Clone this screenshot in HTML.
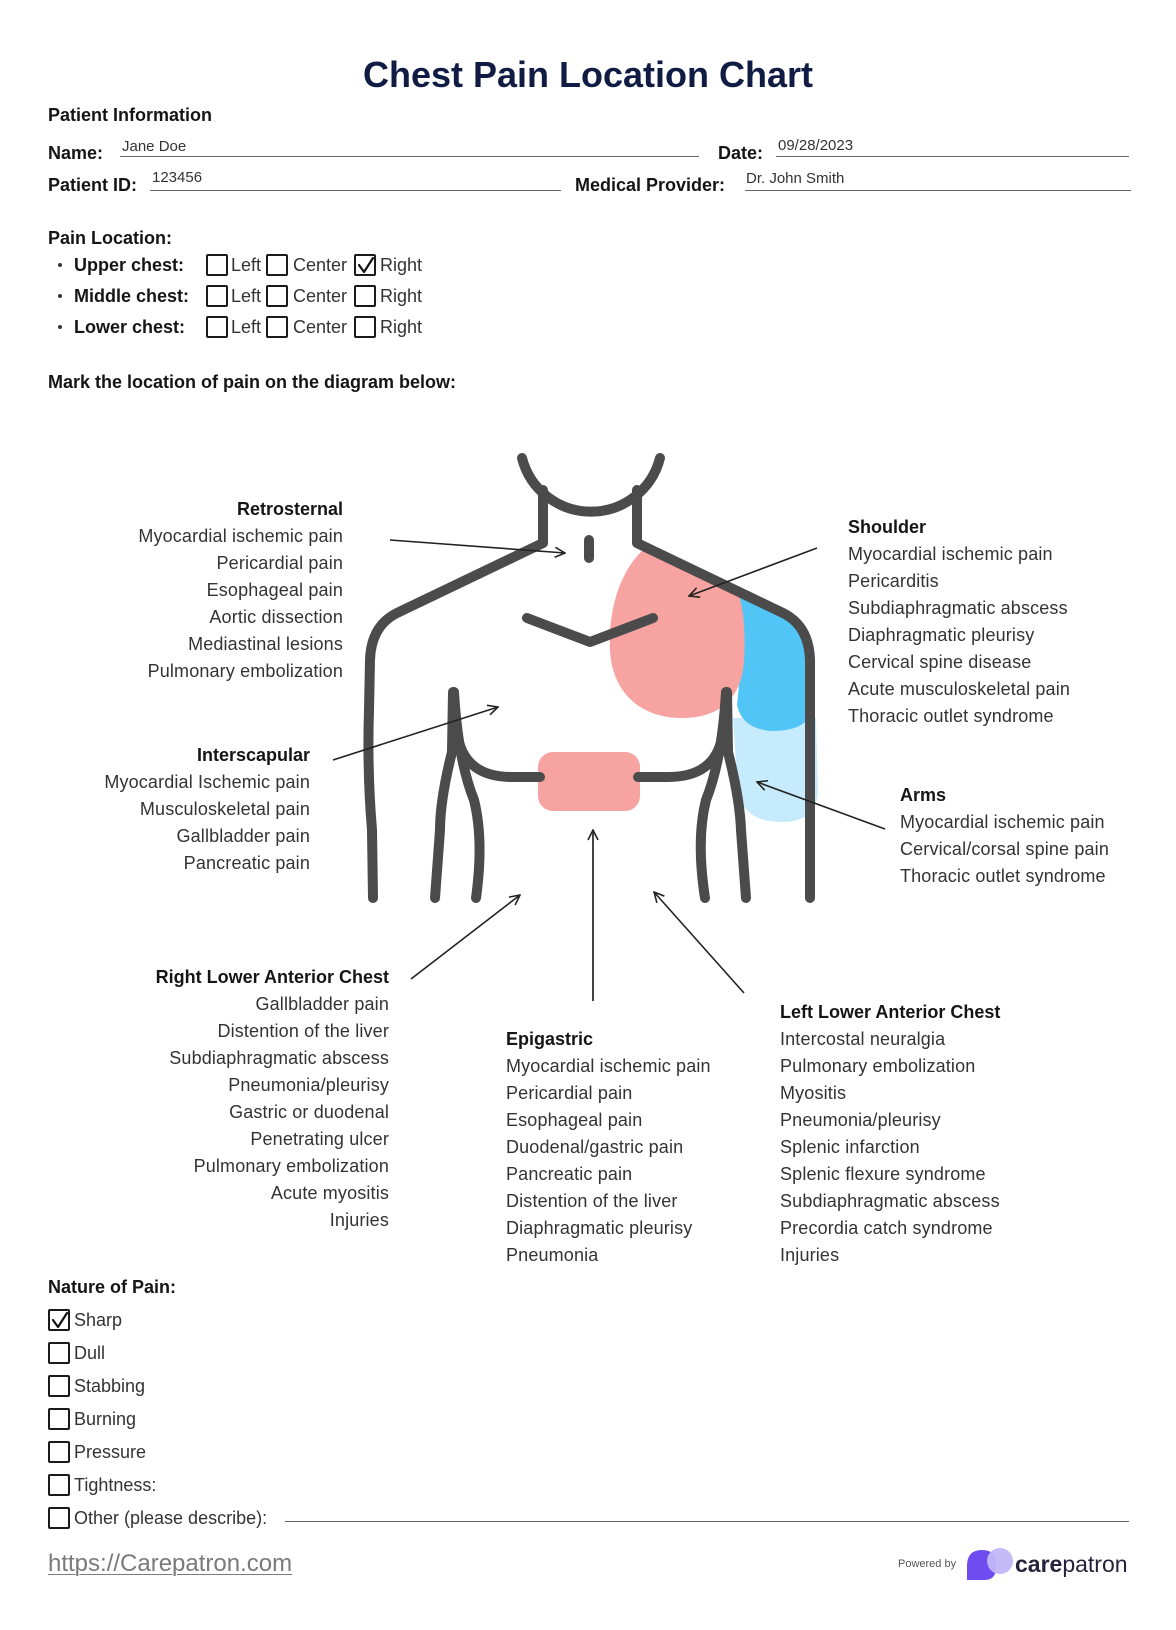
<!DOCTYPE html>
<html><head><meta charset="utf-8"><style>
html,body{margin:0;padding:0;background:#fff}
body{width:1176px;height:1630px;position:relative;overflow:hidden;font-family:"Liberation Sans",Arial,sans-serif}
.t{position:absolute;white-space:nowrap;font-size:18px;line-height:18px;color:#333}
.b{font-weight:bold;color:#151515}
.v{position:absolute;white-space:nowrap;font-size:15px;line-height:15px;color:#333}
.ln{position:absolute;height:0;border-top:1.6px solid #666}
.blk{position:absolute;white-space:nowrap;font-size:18px;line-height:27px;color:#333;letter-spacing:0.15px}
.blk .h{font-weight:bold;color:#151515;letter-spacing:0}
.r{text-align:right}
.cb{position:absolute;width:18px;height:18px;border:2px solid #1a1a1a;border-radius:2px;box-sizing:content-box}
.dot{position:absolute;width:4px;height:4px;border-radius:50%;background:#333}
svg{position:absolute;left:0;top:0}
</style></head><body>
<svg width="1176" height="1630" viewBox="0 0 1176 1630">
<defs>
<marker id="ah" viewBox="0 0 12 12" refX="11" refY="6" markerWidth="12" markerHeight="12" markerUnits="userSpaceOnUse" orient="auto">
<path d="M1,1 L11,6 L1,11" fill="none" stroke="#222" stroke-width="1.6"/>
</marker>
</defs>
<!-- colored areas -->
<path d="M733 718 L816 718 L818 792 Q816 822 782 822 Q744 822 738 792 Z" fill="#C6EBFC"/>
<path d="M732 588 L790 615 Q812 628 812 662 L812 712 Q805 731 772 731 Q742 729 737 705 Q744 650 732 588 Z" fill="#52C5F7"/>
<path d="M645 548 C620 570 608 610 610 650 C612 692 640 718 682 718 C718 718 742 700 744 660 C746 630 743 606 738 592 Z" fill="#F6A3A2"/>
<rect x="538" y="752" width="102" height="59" rx="15" fill="#F6A3A2"/>
<!-- outline -->
<g fill="none" stroke="#4b4b4b" stroke-width="10" stroke-linecap="round" stroke-linejoin="round">
<path d="M522 458 A71.2 71.2 0 0 0 660 458"/>
<path d="M543 490 L543 543 L397 613 Q371 626 370 660 L369 710 Q367 770 372 830 L373 898"/>
<path d="M637 490 L637 543 L783 613 Q809 626 810 660 L810 898"/>
<path d="M589 540 L589 558"/>
<path d="M527 618 L590 642 L653 618"/>
<path d="M453 692 L452 752 Q440 800 440 830 Q437 870 435 898"/>
<path d="M454 692 Q458 760 474 800 Q484 840 476 898"/>
<path d="M458 738 Q466 777 512 777 L540 777"/>
<path d="M727 692 L728 752 Q740 800 741 830 Q744 870 746 898"/>
<path d="M726 692 Q722 760 706 800 Q696 840 705 898"/>
<path d="M722 738 Q714 777 668 777 L638 777"/>
</g>
<!-- arrows -->
<g fill="none" stroke="#222" stroke-width="1.6" marker-end="url(#ah)">
<line x1="390" y1="540" x2="565" y2="553"/>
<line x1="333" y1="760" x2="498" y2="707"/>
<line x1="817" y1="548" x2="689" y2="596"/>
<line x1="885" y1="829" x2="757" y2="782"/>
<line x1="411" y1="979" x2="520" y2="895"/>
<line x1="593" y1="1001" x2="593" y2="830" stroke="#444" stroke-width="2"/>
<line x1="744" y1="993" x2="654" y2="892"/>
</g>
<!-- checkmarks -->
<g fill="none" stroke="#111" stroke-width="2.2" stroke-linecap="round" stroke-linejoin="round">
<path d="M359 265 L364 272 L373 258"/>
<path d="M53 1320 L58 1327 L67 1313"/>
</g>
<!-- logo -->
<path d="M967 1580 L967 1566 Q967 1550 982 1550 Q996 1550 996 1564 L996 1568 Q996 1580 984 1580 Z" fill="#6E4CF0"/>
<circle cx="1000" cy="1561" r="13" fill="#C1B6F7" opacity="0.95"/>
</svg>

<div class="t b" style="left:0;width:1176px;text-align:center;top:57px;font-size:36px;line-height:36px;color:#101c43">Chest Pain Location Chart</div>

<div class="t b" style="left:48px;top:106px">Patient Information</div>
<div class="t b" style="left:48px;top:144px">Name:</div>
<div class="v" style="left:122px;top:139px">Jane Doe</div>
<div class="ln" style="left:120px;top:156px;width:579px"></div>
<div class="t b" style="left:718px;top:144px">Date:</div>
<div class="v" style="left:778px;top:138px">09/28/2023</div>
<div class="ln" style="left:776px;top:156px;width:353px"></div>
<div class="t b" style="left:48px;top:176px">Patient ID:</div>
<div class="v" style="left:152px;top:170px">123456</div>
<div class="ln" style="left:150px;top:190px;width:411px"></div>
<div class="t b" style="left:575px;top:176px">Medical Provider:</div>
<div class="v" style="left:746px;top:171px">Dr. John Smith</div>
<div class="ln" style="left:745px;top:190px;width:386px"></div>

<div class="t b" style="left:48px;top:229px">Pain Location:</div>

<div class="dot" style="left:58px;top:263px"></div>
<div class="t b" style="left:74px;top:256px">Upper chest:</div>
<div class="cb" style="left:206px;top:254px"></div><div class="t" style="left:231px;top:256px">Left</div>
<div class="cb" style="left:266px;top:254px"></div><div class="t" style="left:293px;top:256px">Center</div>
<div class="cb" style="left:354px;top:254px"></div><div class="t" style="left:380px;top:256px">Right</div>

<div class="dot" style="left:58px;top:294px"></div>
<div class="t b" style="left:74px;top:287px">Middle chest:</div>
<div class="cb" style="left:206px;top:285px"></div><div class="t" style="left:231px;top:287px">Left</div>
<div class="cb" style="left:266px;top:285px"></div><div class="t" style="left:293px;top:287px">Center</div>
<div class="cb" style="left:354px;top:285px"></div><div class="t" style="left:380px;top:287px">Right</div>

<div class="dot" style="left:58px;top:325px"></div>
<div class="t b" style="left:74px;top:318px">Lower chest:</div>
<div class="cb" style="left:206px;top:316px"></div><div class="t" style="left:231px;top:318px">Left</div>
<div class="cb" style="left:266px;top:316px"></div><div class="t" style="left:293px;top:318px">Center</div>
<div class="cb" style="left:354px;top:316px"></div><div class="t" style="left:380px;top:318px">Right</div>

<div class="t b" style="left:48px;top:373px">Mark the location of pain on the diagram below:</div>

<div class="blk r" style="right:833px;top:496px"><span class="h">Retrosternal</span><br>Myocardial ischemic pain<br>Pericardial pain<br>Esophageal pain<br>Aortic dissection<br>Mediastinal lesions<br>Pulmonary embolization</div>

<div class="blk r" style="right:866px;top:742px"><span class="h">Interscapular</span><br>Myocardial Ischemic pain<br>Musculoskeletal pain<br>Gallbladder pain<br>Pancreatic pain</div>

<div class="blk" style="left:848px;top:514px"><span class="h">Shoulder</span><br>Myocardial ischemic pain<br>Pericarditis<br>Subdiaphragmatic abscess<br>Diaphragmatic pleurisy<br>Cervical spine disease<br>Acute musculoskeletal pain<br>Thoracic outlet syndrome</div>

<div class="blk" style="left:900px;top:782px"><span class="h">Arms</span><br>Myocardial ischemic pain<br>Cervical/corsal spine pain<br>Thoracic outlet syndrome</div>

<div class="blk r" style="right:787px;top:964px"><span class="h">Right Lower Anterior Chest</span><br>Gallbladder pain<br>Distention of the liver<br>Subdiaphragmatic abscess<br>Pneumonia/pleurisy<br>Gastric or duodenal<br>Penetrating ulcer<br>Pulmonary embolization<br>Acute myositis<br>Injuries</div>

<div class="blk" style="left:506px;top:1026px"><span class="h">Epigastric</span><br>Myocardial ischemic pain<br>Pericardial pain<br>Esophageal pain<br>Duodenal/gastric pain<br>Pancreatic pain<br>Distention of the liver<br>Diaphragmatic pleurisy<br>Pneumonia</div>

<div class="blk" style="left:780px;top:999px"><span class="h">Left Lower Anterior Chest</span><br>Intercostal neuralgia<br>Pulmonary embolization<br>Myositis<br>Pneumonia/pleurisy<br>Splenic infarction<br>Splenic flexure syndrome<br>Subdiaphragmatic abscess<br>Precordia catch syndrome<br>Injuries</div>

<div class="t b" style="left:48px;top:1278px">Nature of Pain:</div>
<div class="cb" style="left:48px;top:1309px"></div><div class="t" style="left:74px;top:1311px">Sharp</div>
<div class="cb" style="left:48px;top:1342px"></div><div class="t" style="left:74px;top:1344px">Dull</div>
<div class="cb" style="left:48px;top:1375px"></div><div class="t" style="left:74px;top:1377px">Stabbing</div>
<div class="cb" style="left:48px;top:1408px"></div><div class="t" style="left:74px;top:1410px">Burning</div>
<div class="cb" style="left:48px;top:1441px"></div><div class="t" style="left:74px;top:1443px">Pressure</div>
<div class="cb" style="left:48px;top:1474px"></div><div class="t" style="left:74px;top:1476px">Tightness:</div>
<div class="cb" style="left:48px;top:1507px"></div><div class="t" style="left:74px;top:1509px">Other (please describe):</div>
<div class="ln" style="left:285px;top:1521px;width:844px"></div>

<div class="t" style="left:48px;top:1552px;font-size:24px;line-height:24px;color:#7a7a7a;text-decoration:underline;text-decoration-thickness:1px;text-underline-offset:3px">https://Carepatron.com</div>
<div class="t" style="left:898px;top:1559px;font-size:11px;line-height:11px;color:#555">Powered by</div>
<div class="t" style="left:1015px;top:1553px;font-size:23px;line-height:23px;color:#23233d"><span style="font-weight:bold">care</span>patron</div>
</body></html>
